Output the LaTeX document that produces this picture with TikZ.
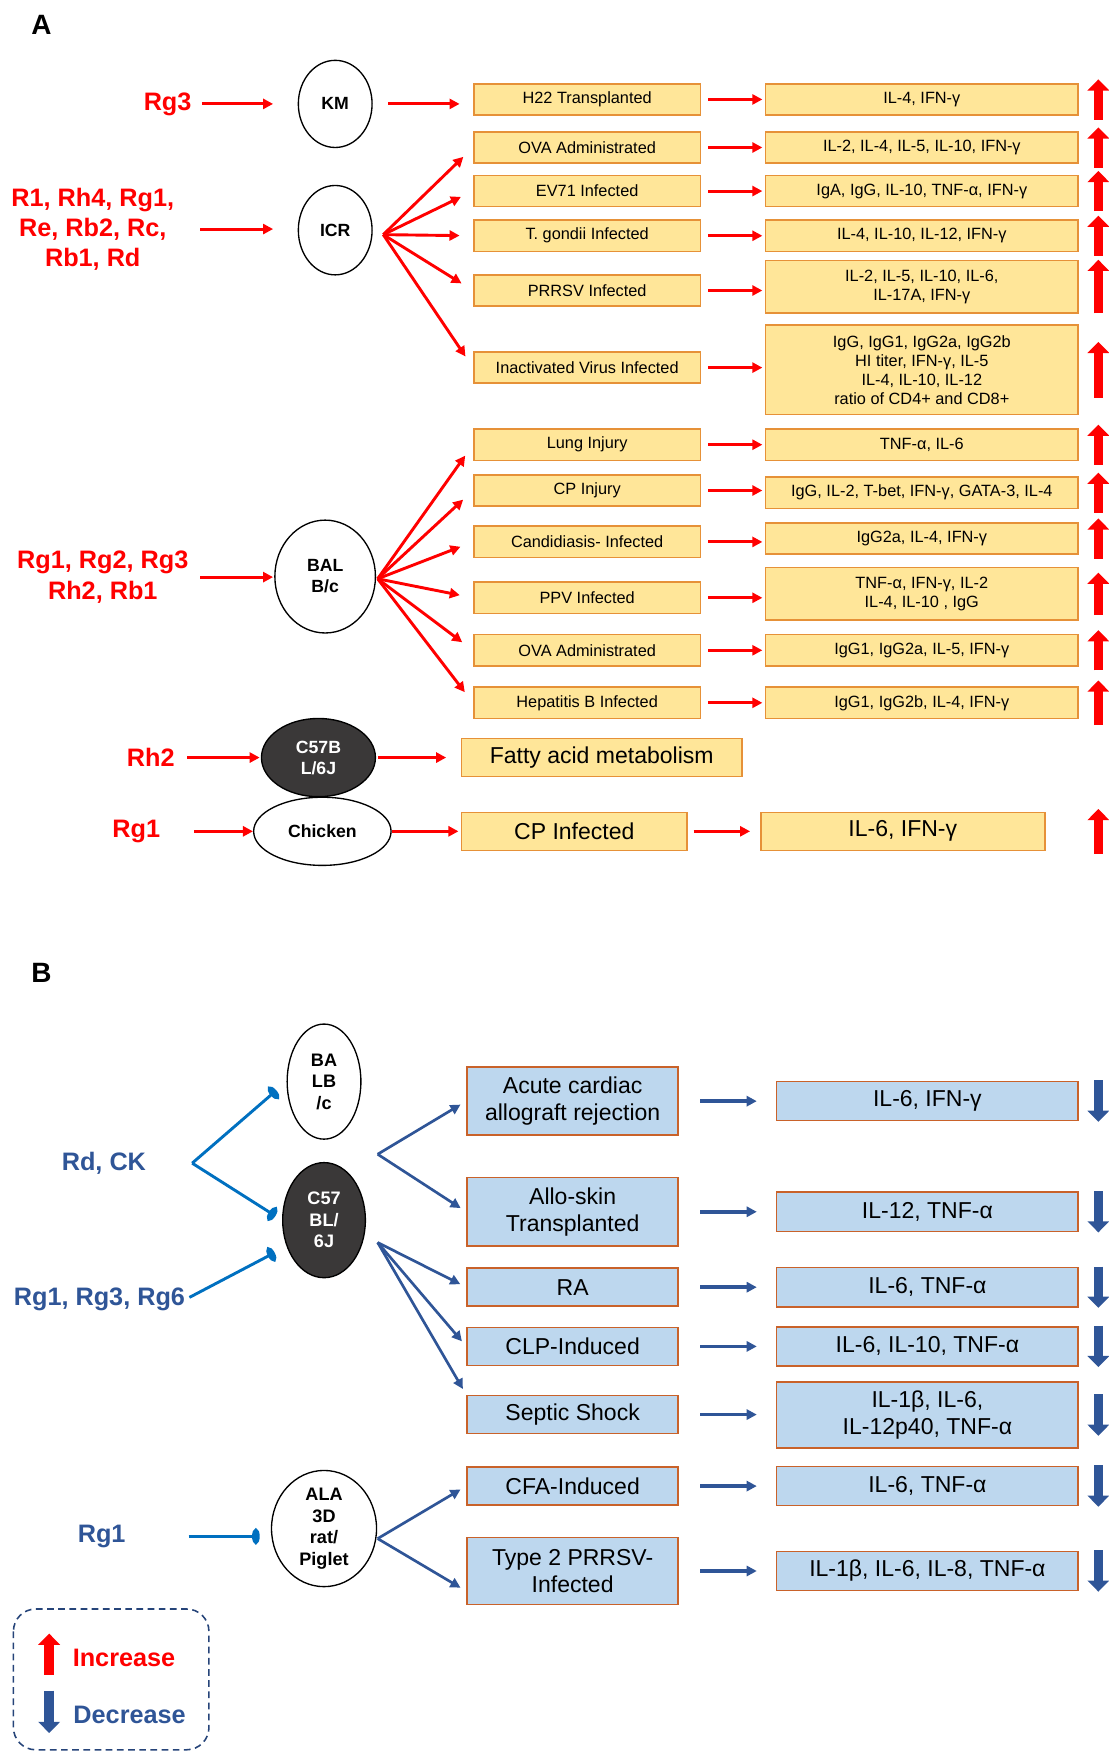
\documentclass[tikz,border=0pt]{standalone}
\usepackage{fontspec}
\setmainfont{Liberation Sans}
\usetikzlibrary{arrows.meta,shapes.geometric}
\definecolor{boxyellow}{HTML}{FFE699}
\definecolor{yedge}{HTML}{E69138}
\definecolor{bedge}{HTML}{C9622A}
\definecolor{boxblue}{HTML}{BDD7EE}
\definecolor{bluedark}{HTML}{2F5597}
\definecolor{blueinh}{HTML}{0070C0}
\definecolor{mousegray}{HTML}{3A3838}

\tikzset{
  panel/.style={font=\bfseries\fontsize{12.5}{14}\selectfont, inner sep=0pt},
  redlbl/.style={text=red, font=\bfseries\fontsize{11.3}{13.5}\selectfont, align=center, inner sep=0pt},
  bluelbl/.style={redlbl, text=bluedark},
  mouse/.style={ellipse, draw, line width=0.6pt, fill=white, inner sep=0pt, align=center,
    font=\bfseries\fontsize{7.9}{9.4}\selectfont},
  darkmouse/.style={mouse, fill=mousegray, text=white},
  mouseb/.style={font=\bfseries\fontsize{8.1}{9.6}\selectfont},
  ybox/.style={draw=yedge, fill=boxyellow, line width=0.7pt, inner sep=1pt, align=center,
    minimum height=14pt, font=\fontsize{7.3}{8.5}\selectfont},
  ycause/.style={ybox, minimum width=101.5pt},
  yres/.style={ybox, minimum width=140pt},
  ybig/.style={ybox, minimum height=17pt, font=\fontsize{10.3}{12}\selectfont},
  bluebox/.style={draw=bedge, fill=boxblue, line width=0.7pt, inner sep=1pt, align=center,
    minimum height=17pt, font=\fontsize{10.3}{12}\selectfont},
  bcause/.style={bluebox, minimum width=94.5pt},
  bres/.style={bluebox, minimum width=135pt, minimum height=17.5pt},
  redarr/.style={red, line width=1.3pt, -{Triangle[length=4.5pt,width=4.5pt]}},
  bluearr/.style={bluedark, line width=1.2pt, -{Triangle[length=4.5pt,width=4.5pt]}},
  inhib/.style={blueinh, line width=1.3pt, -{Ellipse[length=3.4pt,width=7pt]}},
  upmark/.style={red, line width=4.2pt, -{Triangle[length=5pt,width=9.5pt]}},
  downmark/.style={bluedark, line width=4.2pt, -{Triangle[length=5pt,width=9.5pt]}},
  legendbox/.style={draw=bluedark!80!black, dash pattern=on 3pt off 2pt, rounded corners=10pt, line width=0.7pt}
}

\begin{document}
\begin{tikzpicture}[x=0.5pt,y=-0.5pt]
  \useasboundingbox (0,0) rectangle (992,1568);

  % ---------- panel A ----------
  \node[panel] (pa) at (37,22) {A};

  \node[mouse, minimum width=33pt, minimum height=39pt] (km) at (300,93) {KM};
  \node[mouse, minimum width=33pt, minimum height=40pt] (icr) at (300,206) {ICR};
  \node[mouse, minimum width=45pt, minimum height=50.5pt] (balc) at (291,516) {BAL\\B/c};
  \node[darkmouse, minimum width=51pt, minimum height=35pt] (c57a) at (285,678) {C57B\\L/6J};
  \node[mouse, minimum width=61.5pt, minimum height=30.5pt] (chick) at (288.5,744) {Chicken};

  \node[redlbl] (lrg3) at (150,93) {Rg3};
  \node[redlbl] (licr) at (83,205) {R1, Rh4, Rg1,\\Re, Rb2, Rc,\\Rb1, Rd};
  \node[redlbl] (lbal) at (92,516.5) {Rg1, Rg2, Rg3\\Rh2, Rb1};
  \node[redlbl] (lrh2) at (135,678) {Rh2};
  \node[redlbl] (lrg1) at (122,744) {Rg1};

  \node[ycause] (h22) at (525.5,89) {H22 Transplanted};
  \node[ycause] (ova1) at (525.5,132) {OVA Administrated};
  \node[ycause] (ev71) at (525.5,171) {EV71 Infected};
  \node[ycause] (tgon) at (525.5,211) {T. gondii Infected};
  \node[ycause] (prrsv) at (525.5,260) {PRRSV Infected};
  \node[ycause] (inact) at (525.5,329) {Inactivated Virus Infected};
  \node[ycause] (lung) at (525.5,398) {Lung Injury};
  \node[ycause] (cpinj) at (525.5,439) {CP Injury};
  \node[ycause] (cand) at (525.5,485) {Candidiasis- Infected};
  \node[ycause] (ppv) at (525.5,535) {PPV Infected};
  \node[ycause] (ova2) at (525.5,582) {OVA Administrated};
  \node[ycause] (hepb) at (525.5,629) {Hepatitis B Infected};
  \node[ybig, minimum width=125.5pt] (fatty) at (538.5,678) {Fatty acid metabolism};
  \node[ybig, minimum width=101pt] (cpinf) at (514,744) {CP Infected};

  \node[yres] (rh22) at (825,89) {IL-4, IFN-γ};
  \node[yres] (rova1) at (825,132) {IL-2, IL-4, IL-5, IL-10, IFN-γ};
  \node[yres] (rev71) at (825,171) {IgA, IgG, IL-10, TNF-α, IFN-γ};
  \node[yres] (rtgon) at (825,211) {IL-4, IL-10, IL-12, IFN-γ};
  \node[yres, minimum height=23.5pt] (rprrsv) at (825,256.5) {IL-2, IL-5, IL-10, IL-6,\\IL-17A, IFN-γ};
  \node[yres, minimum height=40pt] (rinact) at (825,331) {IgG, IgG1, IgG2a, IgG2b\\HI titer, IFN-γ, IL-5\\IL-4, IL-10, IL-12\\ratio of CD4+ and CD8+};
  \node[yres] (rlung) at (825,398) {TNF-α, IL-6};
  \node[yres] (rcpinj) at (825,441) {IgG, IL-2, T-bet, IFN-γ, GATA-3, IL-4};
  \node[yres] (rcand) at (825,482) {IgG2a, IL-4, IFN-γ};
  \node[yres, minimum height=23.5pt] (rppv) at (825,531.5) {TNF-α, IFN-γ, IL-2\\IL-4, IL-10 , IgG};
  \node[yres] (rova2) at (825,582) {IgG1, IgG2a, IL-5, IFN-γ};
  \node[yres] (rhepb) at (825,629) {IgG1, IgG2b, IL-4, IFN-γ};
  \node[ybig, minimum width=127pt] (rcpinf) at (808,744) {IL-6, IFN-γ};

  \coordinate (icrf) at (343,210);
  \coordinate (balf) at (338,518);
  \coordinate (upx) at (983,0);

  \draw[redarr, shorten <=4.5pt, shorten >=11pt] (lrg3.east) -- (lrg3.east -| km.west);
  \draw[redarr, shorten <=11.5pt, shorten >=11pt] (licr.east) -- (licr.east -| icr.west);
  \draw[redarr, shorten <=5pt, shorten >=0.5pt] (lbal.east) -- (lbal.east -| balc.west);
  \draw[redarr, shorten <=5.5pt, shorten >=0.5pt] (lrh2.east) -- (lrh2.east -| c57a.west);
  \draw[redarr, shorten <=15pt] (lrg1.east) -- (lrg1.east -| chick.west);

  \draw[redarr, shorten <=7pt, shorten >=6pt] (km.east) -- (km.east -| h22.west);
  \draw[redarr, shorten <=1pt, shorten >=6.5pt] (c57a.east) -- (c57a.east -| fatty.west);
  \draw[redarr, shorten >=1pt] (chick.east) -- (chick.east -| cpinf.west);
  \draw[redarr, shorten <=2.5pt, shorten >=4.5pt] (cpinf.east) -- (cpinf.east -| rcpinf.west);

  \foreach \t in {ova1,ev71,tgon,prrsv,inact}
    \draw[redarr, shorten >=6pt] (icrf) -- (\t.west);
  \foreach \t in {lung,cpinj,cand,ppv,ova2,hepb}
    \draw[redarr, shorten >=6pt] (balf) -- (\t.west);

  \foreach \src/\dst in {h22/rh22,ova1/rova1,ev71/rev71,tgon/rtgon,prrsv/rprrsv,inact/rinact,
      lung/rlung,cpinj/rcpinj,cand/rcand,ppv/rppv,ova2/rova2,hepb/rhepb}
    \draw[redarr, shorten <=3pt, shorten >=1pt] (\src.east) -- (\src.east -| \dst.west);

  \foreach \r/\h in {rh22/9,rova1/9,rev71/9,rtgon/9,rprrsv/12,rinact/12.5,rlung/9,rcpinj/9,
      rcand/9,rppv/9.5,rova2/9,rhepb/10,rcpinf/10}
    \draw[upmark] ([yshift=-\h pt]\r.center -| upx) -- ([yshift=\h pt]\r.center -| upx);

  % ---------- panel B ----------
  \node[panel] (pb) at (37,871) {B};

  \node[mouse, mouseb, minimum width=33pt, minimum height=51.5pt] (balcb) at (290,968) {BA\\LB\\/c};
  \node[darkmouse, mouseb, minimum width=37pt, minimum height=51.5pt] (c57b) at (290,1092) {C57\\BL/\\6J};
  \node[mouse, mouseb, minimum width=47pt, minimum height=52pt] (ala) at (290,1368) {ALA\\3D\\rat/\\Piglet};

  \node[bluelbl] (lrdck) at (93,1041) {Rd, CK};
  \node[bluelbl] (lrg136) at (89,1163) {Rg1, Rg3, Rg6};
  \node[bluelbl] (lrg1b) at (91,1375) {Rg1};

  \node[bcause, minimum height=30.5pt] (acute) at (512.5,985.5) {Acute cardiac\\allograft rejection};
  \node[bcause, minimum height=30.5pt] (allo) at (512.5,1084.5) {Allo-skin\\Transplanted};
  \node[bcause] (ra) at (512.5,1152) {RA};
  \node[bcause] (clp) at (512.5,1205) {CLP-Induced};
  \node[bcause] (septic) at (512.5,1266) {Septic Shock};
  \node[bcause] (cfa) at (512.5,1330) {CFA-Induced};
  \node[bcause, minimum height=30pt] (type2) at (512.5,1406) {Type 2 PRRSV-\\Infected};

  \node[bres] (racute) at (830,985.5) {IL-6, IFN-γ};
  \node[bres] (rallo) at (830,1084.5) {IL-12, TNF-α};
  \node[bres] (rra) at (830,1152) {IL-6, TNF-α};
  \node[bres] (rclp) at (830,1205) {IL-6, IL-10, TNF-α};
  \node[bres, minimum height=29.5pt] (rseptic) at (830,1266.5) {IL-1β, IL-6,\\IL-12p40, TNF-α};
  \node[bres] (rcfa) at (830,1330) {IL-6, TNF-α};
  \node[bres] (rtype2) at (830,1406) {IL-1β, IL-6, IL-8, TNF-α};

  \coordinate (fork) at (172,1041);
  \coordinate (ufan) at (338,1033);
  \coordinate (lfan) at (338,1112);
  \coordinate (alaf) at (338,1377);
  \coordinate (downx) at (983,0);

  \draw[inhib, shorten >=6pt] (fork) -- (balcb.west);
  \draw[inhib, shorten >=3.5pt] (fork) -- (c57b.west);
  \draw[inhib, shorten <=2pt, shorten >=6pt] (lrg136.east) -- (c57b.215);
  \draw[inhib, shorten <=28pt, shorten >=5pt] (lrg1b.east) -- (lrg1b.east -| ala.west);

  \draw[bluearr, shorten >=3pt] (ufan) -- (acute.west);
  \draw[bluearr, shorten >=3pt] (ufan) -- (allo.west);
  \draw[bluearr, shorten >=3pt] (lfan) -- (ra.west);
  \draw[bluearr, shorten >=3pt] (lfan) -- (clp.west);
  \draw[bluearr, shorten >=3pt] (lfan) -- (septic.north west);
  \draw[bluearr, shorten >=3pt] (alaf) -- (cfa.west);
  \draw[bluearr, shorten >=3pt] (alaf) -- ([yshift=-9pt]type2.west);

  \foreach \src/\dst in {acute/racute,allo/rallo,ra/rra,clp/rclp,septic/rseptic,cfa/rcfa,type2/rtype2}
    \draw[bluearr, line width=1.6pt, shorten <=9.5pt, shorten >=8.5pt] (\src.east) -- (\src.east -| \dst.west);

  \foreach \r in {racute,rallo,rra,rclp,rseptic,rcfa,rtype2}
    \draw[downmark] ([yshift=9.25pt]\r.center -| downx) -- ([yshift=-9.25pt]\r.center -| downx);

  % legend
  \draw[legendbox] (12,1440) rectangle (187,1566);
  \node[redlbl] (inc) at (111,1484) {Increase};
  \node[bluelbl] (dec) at (116,1535) {Decrease};
  \coordinate (legx) at (44,0);
  \draw[upmark] ([yshift=-7.5pt]inc.center -| legx) -- ([yshift=11pt]inc.center -| legx);
  \draw[downmark] ([yshift=11pt]dec.center -| legx) -- ([yshift=-8pt]dec.center -| legx);
\end{tikzpicture}
\end{document}
